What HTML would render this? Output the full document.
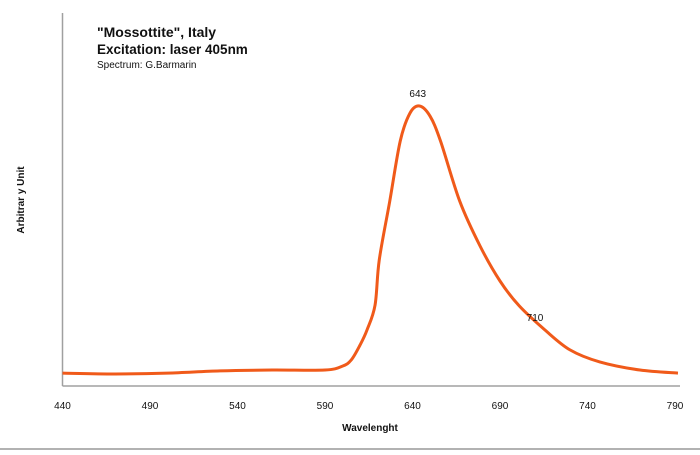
<!DOCTYPE html>
<html><head><meta charset="utf-8"><style>
body{margin:0;background:#fff;font-family:"Liberation Sans",sans-serif}
svg text{font-family:"Liberation Sans",sans-serif}
</style></head><body>
<svg id="chart" width="700" height="450">
<line x1="62.5" y1="13" x2="62.5" y2="386" stroke="#a0a0a0" stroke-width="1.5"/>
<line x1="62.5" y1="386" x2="680" y2="386" stroke="#a0a0a0" stroke-width="1.5"/>
<line x1="0" y1="449" x2="700" y2="449" stroke="#999" stroke-width="1.5"/>
<text x="97" y="37" font-size="14" font-weight="bold" fill="#111">"Mossottite", Italy</text>
<text x="97" y="54" font-size="13.5" font-weight="bold" fill="#111">Excitation: laser 405nm</text>
<text x="97" y="68" font-size="10" fill="#111">Spectrum: G.Barmarin</text>
<text transform="translate(24,200) rotate(-90)" text-anchor="middle" font-size="10" font-weight="bold" fill="#111">Arbitrar y Unit</text>
<text x="370" y="431" text-anchor="middle" font-size="10" font-weight="bold" fill="#111">Wavelenght</text>
<g id="ticks"></g>
<path id="line" fill="none" stroke="#f05a1a" stroke-width="3" stroke-linejoin="round"/>
<g id="anno"></g>
</svg>
<script>
const tickLabels=[440,490,540,590,640,690,740,790];
const wavelengths=[440,470,500,530,560,590,600,605,610,614,618.6,621,627,633,638.6,644,650,656,667,678.6,690,701,715.7,730,747,770,791.7];
const intensities=[4.6,4.3,4.6,5.4,5.7,5.7,7.1,9.3,14.6,20,28.9,45,66,87.5,97.5,100,96.4,87.5,66,50,37.5,28.6,20,12.9,8.6,5.7,4.6];
const peakLabels=[643,710];
const peakValues=[100,20];
const X=w=>62.5+(w-440)*1.75, Y=v=>386-v*2.8;
const ns="http://www.w3.org/2000/svg";
const tg=document.getElementById('ticks');
tickLabels.forEach(t=>{const e=document.createElementNS(ns,'text');
e.setAttribute('x',X(t));e.setAttribute('y',409);e.setAttribute('text-anchor','middle');e.setAttribute('font-size','10');e.setAttribute('fill','#111');


e.textContent=t;tg.appendChild(e);});
let pts=wavelengths.map((w,i)=>[X(w),Y(intensities[i])]);
let d='M'+pts[0].join(',');
for(let i=0;i<pts.length-1;i++){const p0=pts[Math.max(i-1,0)],p1=pts[i],p2=pts[i+1],p3=pts[Math.min(i+2,pts.length-1)];
d+=` C${p1[0]+(p2[0]-p0[0])/6},${p1[1]+(p2[1]-p0[1])/6} ${p2[0]-(p3[0]-p1[0])/6},${p2[1]-(p3[1]-p1[1])/6} ${p2[0]},${p2[1]}`;}
document.getElementById('line').setAttribute('d',d);
const ag=document.getElementById('anno');
peakLabels.forEach((p,i)=>{const e=document.createElementNS(ns,'text');
e.setAttribute('x',X(p));e.setAttribute('y',Y(peakValues[i])-9);e.setAttribute('text-anchor','middle');e.setAttribute('font-size','10');e.setAttribute('fill','#111');


e.textContent=p;ag.appendChild(e);});
</script>
</body></html>
